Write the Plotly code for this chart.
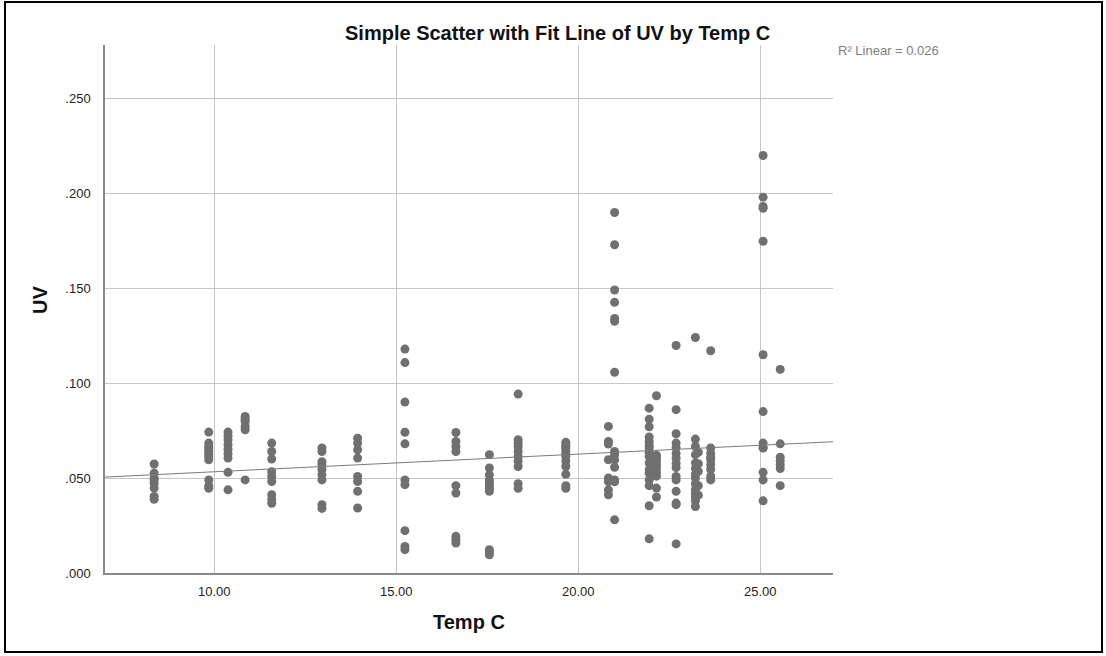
import numpy as np
import plotly.graph_objects as go

# ---- data ----
temp_levels = [8.35, 9.85, 10.38, 10.85, 11.58, 12.96, 13.94, 15.24, 16.64, 17.56,
               18.35, 19.66, 20.83, 21.0, 21.95, 22.15, 22.69, 23.22, 23.3, 23.64,
               25.08, 25.55]
uv_by_level = [
    [0.0574, 0.0526, 0.050, 0.049, 0.0472, 0.0447, 0.0403, 0.0388],
    [0.0742, 0.0684, 0.0667, 0.0655, 0.064, 0.0625, 0.0614, 0.0596, 0.049, 0.046, 0.0446],
    [0.0742, 0.0723, 0.0702, 0.0675, 0.0652, 0.0628, 0.0605, 0.053, 0.0438],
    [0.0824, 0.081, 0.0798, 0.0772, 0.0754, 0.049],
    [0.0684, 0.064, 0.060, 0.0533, 0.0508, 0.0482, 0.0412, 0.0388, 0.0367],
    [0.0658, 0.064, 0.0586, 0.057, 0.0544, 0.0517, 0.049, 0.036, 0.034],
    [0.071, 0.0684, 0.0649, 0.0605, 0.0508, 0.0482, 0.043, 0.0342],
    [0.1179, 0.1108, 0.090, 0.0741, 0.068, 0.049, 0.0465, 0.0223, 0.014, 0.0123],
    [0.074, 0.0693, 0.0666, 0.064, 0.046, 0.0421, 0.0193, 0.0175, 0.0158],
    [0.0623, 0.0553, 0.0517, 0.049, 0.0475, 0.046, 0.0445, 0.043, 0.0123, 0.011, 0.0096],
    [0.0942, 0.0702, 0.0685, 0.0666, 0.064, 0.0614, 0.059, 0.0561, 0.047, 0.0446],
    [0.0688, 0.0675, 0.0666, 0.0655, 0.064, 0.0625, 0.0614, 0.059, 0.0561, 0.052, 0.046, 0.0446],
    [0.0772, 0.0693, 0.0679, 0.0596, 0.050, 0.0482, 0.0438, 0.0412],
    [0.1898, 0.1728, 0.149, 0.1425, 0.134, 0.1325, 0.1057, 0.064, 0.0623, 0.0596, 0.0557, 0.049, 0.048, 0.028],
    [0.0868, 0.081, 0.077, 0.0716, 0.0691, 0.067, 0.0658, 0.0635, 0.0614, 0.0579, 0.0544, 0.0525, 0.049, 0.046, 0.0354, 0.018],
    [0.0933, 0.062, 0.0605, 0.059, 0.057, 0.055, 0.053, 0.051, 0.0447, 0.040],
    [0.1198, 0.086, 0.0733, 0.0684, 0.066, 0.063, 0.0605, 0.0577, 0.0555, 0.0508, 0.049, 0.043, 0.0368, 0.036, 0.0153],
    [0.124, 0.0705, 0.0666, 0.0623, 0.058, 0.055, 0.052, 0.050, 0.047, 0.044, 0.042, 0.040, 0.038, 0.035],
    [0.0635, 0.0575, 0.0535, 0.046, 0.041],
    [0.117, 0.0658, 0.063, 0.061, 0.0596, 0.0571, 0.0545, 0.051, 0.049],
    [0.2198, 0.1979, 0.193, 0.192, 0.1747, 0.1149, 0.085, 0.0684, 0.066, 0.0658, 0.053, 0.049, 0.038],
    [0.1072, 0.068, 0.061, 0.059, 0.057, 0.055, 0.046],
]
# linear fit line as drawn in the picture (R² Linear = 0.026)
fit_intercept = 0.0440
fit_slope = 0.000930

x_tick_vals = [10, 15, 20, 25]
x_tick_text = ["10.00", "15.00", "20.00", "25.00"]
y_tick_vals = [0.0, 0.05, 0.10, 0.15, 0.20, 0.25]
y_tick_text = [".000", ".050", ".100", ".150", ".200", ".250"]
r2_label = "R\u00b2 Linear = 0.026"
title_text = "Simple Scatter with Fit Line of UV by Temp C"
x_title = "Temp C"
y_title = "UV"

temp_c = []
uv = []
for t, vals in zip(temp_levels, uv_by_level):
    temp_c += [t] * len(vals)
    uv += vals

x_range = [7, 27]
y_range = [0, 0.278]

fit_x = np.array(x_range, dtype=float)
fit_y = fit_intercept + fit_slope * fit_x

fig = go.Figure()
fig.add_trace(go.Scatter(
    x=temp_c, y=uv, mode="markers",
    marker=dict(color="#707070", size=9, line=dict(width=0)),
    showlegend=False, hoverinfo="x+y"))
fig.add_trace(go.Scatter(
    x=fit_x, y=fit_y, mode="lines",
    line=dict(color="#7a7a7a", width=1),
    showlegend=False, hoverinfo="skip"))

W, H = 1106, 656
L, R, T, B = 105, 273, 45, 83
pw, ph = W - L - R, H - T - B

def px_to_paper_x(p):
    return (p - L) / pw

def px_to_paper_y(p):
    return (H - B - p) / ph

font_fam = "Liberation Sans, Arial, sans-serif"
tick_font = dict(size=13, color="#222222", family=font_fam)
big_font = dict(size=20, color="#111111", family=font_fam, weight="bold")

fig.update_layout(
    template="none",
    width=W, height=H,
    margin=dict(l=L, r=R, t=T, b=B, pad=0),
    paper_bgcolor="white", plot_bgcolor="white",
    font=dict(family=font_fam, color="#222222"),
    xaxis=dict(range=x_range, tickvals=x_tick_vals, ticktext=x_tick_text,
               showgrid=True, gridcolor="#c6c6c6", gridwidth=1,
               showline=True, linecolor="#8a8a8a", linewidth=1.5,
               zeroline=False, ticks="outside", ticklen=6,
               tickcolor="rgba(0,0,0,0)", tickfont=tick_font),
    yaxis=dict(range=y_range, tickvals=y_tick_vals, ticktext=y_tick_text,
               showgrid=True, gridcolor="#c6c6c6", gridwidth=1,
               showline=True, linecolor="#8a8a8a", linewidth=1.5,
               zeroline=False, ticks="outside", ticklen=10,
               tickcolor="rgba(0,0,0,0)", tickfont=tick_font),
    annotations=[
        dict(text=title_text, xref="paper", yref="paper",
             x=px_to_paper_x(557), y=px_to_paper_y(33),
             xanchor="center", yanchor="middle", showarrow=False, font=big_font),
        dict(text=x_title, xref="paper", yref="paper",
             x=px_to_paper_x(469), y=px_to_paper_y(622),
             xanchor="center", yanchor="middle", showarrow=False, font=big_font),
        dict(text=y_title, xref="paper", yref="paper", textangle=-90,
             x=px_to_paper_x(40), y=px_to_paper_y(300),
             xanchor="center", yanchor="middle", showarrow=False, font=big_font),
        dict(text=r2_label, xref="paper", yref="paper",
             x=px_to_paper_x(836), y=px_to_paper_y(50),
             xanchor="left", yanchor="middle", showarrow=False,
             font=dict(size=13, color="#808080", family=font_fam)),
    ],
    shapes=[dict(type="rect", xref="paper", yref="paper",
                 x0=px_to_paper_x(5), x1=px_to_paper_x(1102),
                 y0=px_to_paper_y(2), y1=px_to_paper_y(652),
                 line=dict(color="black", width=2), fillcolor="rgba(0,0,0,0)",
                 layer="below")],
)

fig.write_html("out.html")
